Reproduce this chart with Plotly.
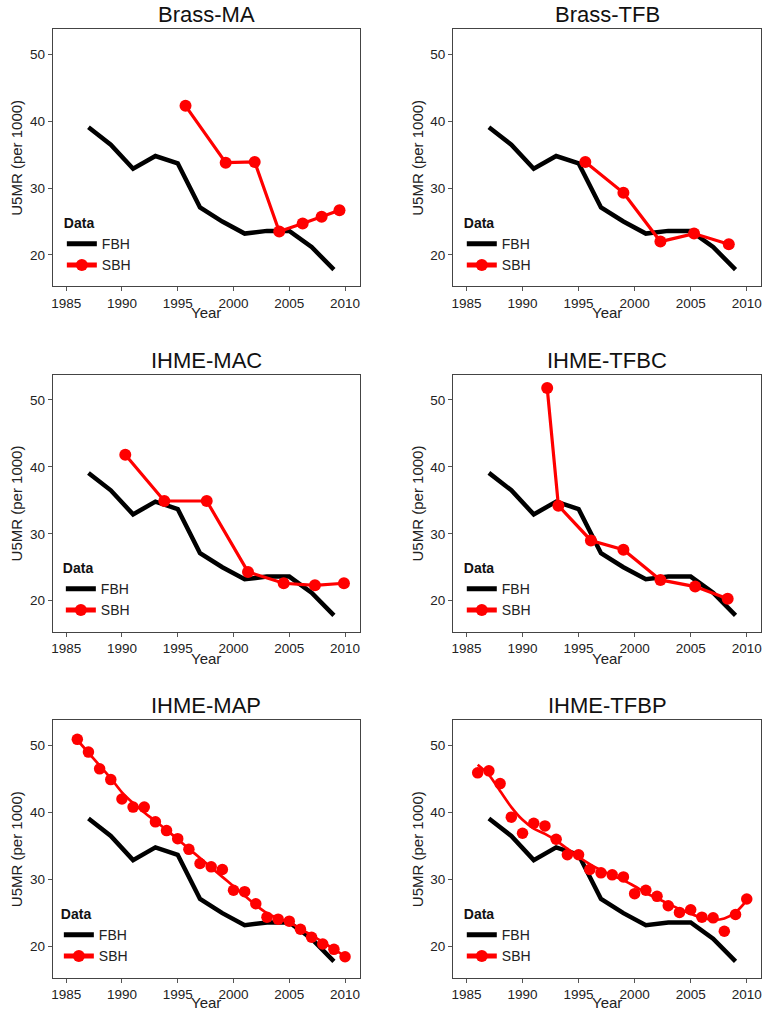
import plotly.graph_objects as go

FONT = "Liberation Sans, Arial, Helvetica, sans-serif"

# ---------------- data ----------------
fbh_years = [1987, 1989, 1991, 1993, 1995, 1997, 1999, 2001, 2003, 2005, 2007, 2009]
fbh_u5mr = [39.1, 36.5, 32.9, 34.8, 33.7, 27.1, 25.0, 23.2, 23.6, 23.6, 21.2, 17.8]

brass_ma_years = [1995.7, 1999.3, 2001.9, 2004.1, 2006.2, 2007.9, 2009.5]
brass_ma_u5mr = [42.3, 33.8, 33.9, 23.5, 24.7, 25.7, 26.7]

brass_tfb_years = [1995.6, 1999.0, 2002.3, 2005.3, 2008.4]
brass_tfb_u5mr = [33.9, 29.3, 22.0, 23.2, 21.6]

ihme_mac_years = [1990.3, 1993.8, 1997.6, 2001.3, 2004.5, 2007.3, 2009.9]
ihme_mac_u5mr = [41.8, 34.9, 34.9, 24.3, 22.6, 22.3, 22.6]

ihme_tfbc_years = [1992.2, 1993.2, 1996.1, 1999.0, 2002.3, 2005.4, 2008.3]
ihme_tfbc_u5mr = [51.8, 34.2, 29.0, 27.6, 23.1, 22.1, 20.3]

annual_years = [1986, 1987, 1988, 1989, 1990, 1991, 1992, 1993, 1994, 1995, 1996, 1997,
                1998, 1999, 2000, 2001, 2002, 2003, 2004, 2005, 2006, 2007, 2008, 2009, 2010]
ihme_map_u5mr = [50.9, 49.0, 46.5, 44.9, 42.0, 40.8, 40.8, 38.6, 37.3, 36.1, 34.5, 32.4,
                 31.9, 31.5, 28.4, 28.2, 26.4, 24.4, 24.1, 23.8, 22.6, 21.4, 20.4, 19.6, 18.5]
ihme_map_smooth = [50.8, 48.9, 47.0, 45.1, 43.0, 41.4, 40.0, 38.7, 37.4, 36.0, 34.6, 33.2,
                   31.8, 30.4, 29.0, 27.6, 26.2, 25.0, 24.2, 23.6, 22.7, 21.7, 20.7, 19.6, 18.6]
ihme_tfbp_u5mr = [45.9, 46.2, 44.3, 39.3, 36.9, 38.4, 38.0, 36.0, 33.7, 33.7, 31.5, 31.0,
                  30.7, 30.4, 27.9, 28.4, 27.5, 26.1, 25.1, 25.5, 24.4, 24.3, 22.3, 24.8, 27.1]
ihme_tfbp_smooth = [47.1, 45.6, 43.2, 40.8, 38.9, 37.6, 36.8, 35.8, 34.6, 33.4, 32.3, 31.4,
                    30.6, 29.9, 29.0, 28.0, 27.2, 26.4, 25.6, 24.9, 24.3, 24.0, 24.2, 25.1, 26.9]

panel_titles = ["Brass-MA", "Brass-TFB", "IHME-MAC", "IHME-TFBC", "IHME-MAP", "IHME-TFBP"]
x_ticks = [1985, 1990, 1995, 2000, 2005, 2010]
y_ticks = [20, 30, 40, 50]

# ---------------- layout geometry ----------------
W, H = 765, 1011
col_px = [(50.9, 358.5), (452.2, 761.3)]
row_px = [(29.25, 286.4), (374.9, 632.1), (720.2, 978.2)]
year_shift = [-26.5, -26.5, -24.0]
legend_px = [(60, 210), (461, 210), (59, 555), (461, 555), (57, 901), (461, 901)]

panels = [
    dict(kind="connected", x=brass_ma_years, y=brass_ma_u5mr),
    dict(kind="connected", x=brass_tfb_years, y=brass_tfb_u5mr),
    dict(kind="connected", x=ihme_mac_years, y=ihme_mac_u5mr),
    dict(kind="connected", x=ihme_tfbc_years, y=ihme_tfbc_u5mr),
    dict(kind="smooth", x=annual_years, y=ihme_map_u5mr, s=ihme_map_smooth),
    dict(kind="smooth", x=annual_years, y=ihme_tfbp_u5mr, s=ihme_tfbp_smooth),
]

RED = "#ff0000"
fig = go.Figure()
layout = dict(
    width=W, height=H,
    margin=dict(l=0, r=0, t=0, b=0),
    paper_bgcolor="white", plot_bgcolor="white",
    font=dict(family=FONT, color="#222"),
    showlegend=True,
    annotations=[],
)

for i, p in enumerate(panels):
    n = i + 1
    suf = "" if n == 1 else str(n)
    xa, ya = "x" + suf, "y" + suf
    leg = "legend" + suf
    r, c = divmod(i, 2)
    x0, x1 = col_px[c]
    y0, y1 = row_px[r]

    fig.add_trace(go.Scatter(
        x=fbh_years, y=fbh_u5mr, mode="lines", name="FBH",
        line=dict(color="black", width=4.5),
        xaxis=xa, yaxis=ya, legend=leg, showlegend=True,
    ))
    if p["kind"] == "connected":
        fig.add_trace(go.Scatter(
            x=p["x"], y=p["y"], mode="lines+markers", name="SBH",
            line=dict(color=RED, width=3.2),
            marker=dict(color=RED, size=12),
            xaxis=xa, yaxis=ya, legend=leg, showlegend=True,
        ))
    else:
        fig.add_trace(go.Scatter(
            x=p["x"], y=p["y"], mode="markers", name="SBH",
            marker=dict(color=RED, size=11.5),
            xaxis=xa, yaxis=ya, legend=leg, showlegend=False,
        ))
        fig.add_trace(go.Scatter(
            x=p["x"], y=p["s"], mode="lines+markers", name="SBH",
            line=dict(color=RED, width=2.7, shape="spline", smoothing=0.8),
            marker=dict(color=RED, size=0.01),
            xaxis=xa, yaxis=ya, legend=leg, showlegend=True,
        ))

    common = dict(
        showline=True, linecolor="#444", linewidth=1, mirror=True,
        ticks="outside", ticklen=4, tickcolor="#555", tickwidth=1,
        showgrid=False, zeroline=False,
        tickfont=dict(family=FONT, size=13.5, color="#222"),
    )
    layout["xaxis" + suf] = dict(
        common, domain=[x0 / W, x1 / W], anchor=ya,
        range=[1983.8, 2011.3], tickvals=x_ticks,
    )
    layout["yaxis" + suf] = dict(
        common, domain=[1 - y1 / H, 1 - y0 / H], anchor=xa,
        range=[15.3, 53.75], tickvals=y_ticks,
        title=dict(text="U5MR (per 1000)", font=dict(family=FONT, size=15, color="#222"), standoff=3),
    )
    lx, ly = legend_px[i]
    layout[leg] = dict(
        x=lx / W, y=1 - ly / H, xanchor="left", yanchor="top",
        xref="paper", yref="paper",
        bgcolor="rgba(0,0,0,0)", borderwidth=0,
        title=dict(text="<b>Data</b>", font=dict(family=FONT, size=14, color="#111")),
        font=dict(family=FONT, size=14, color="#222"),
        itemsizing="constant", itemwidth=30, tracegroupgap=0,
        traceorder="normal",
    )
    # panel title
    layout["annotations"].append(dict(
        text=panel_titles[i], showarrow=False,
        xref=xa + " domain", yref=ya + " domain", x=0.5, y=1,
        xanchor="center", yanchor="bottom", yshift=0,
        font=dict(family=FONT, size=22, color="#111"),
    ))
    # x-axis title
    layout["annotations"].append(dict(
        text="Year", showarrow=False,
        xref=xa + " domain", yref=ya + " domain", x=0.5, y=0,
        xanchor="center", yanchor="middle", yshift=year_shift[r],
        font=dict(family=FONT, size=15, color="#222"),
    ))

fig.update_layout(**layout)
fig.write_html("out.html")
